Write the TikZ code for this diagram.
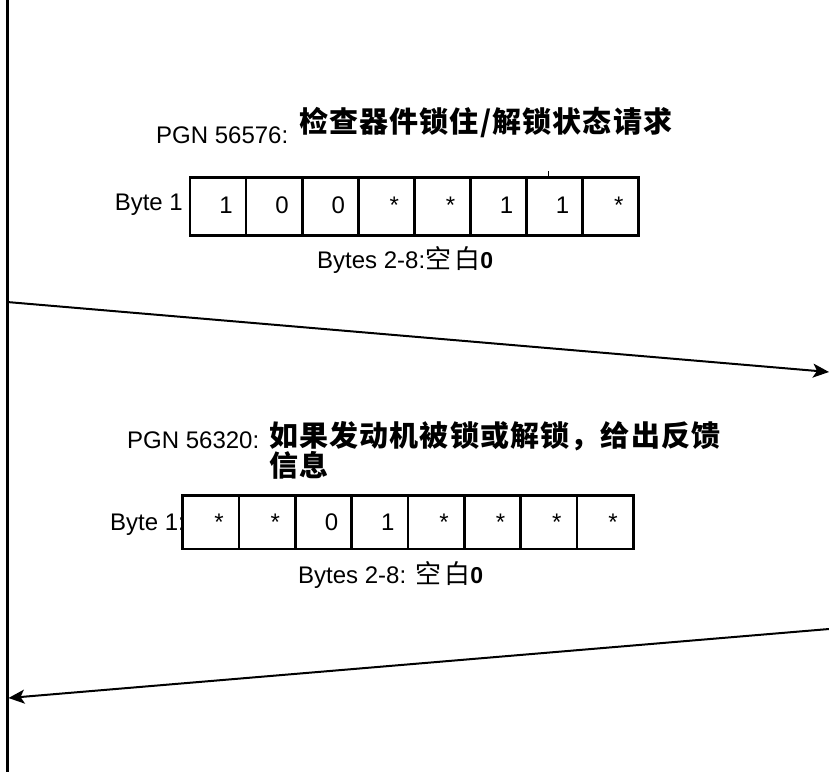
\documentclass[tikz,border=0pt]{standalone}
\usepackage{fontspec}
\setmainfont{Liberation Sans}
\newfontfamily\cjk[LetterSpace=12]{Noto Sans CJK SC}
\newfontfamily\cjkt[LetterSpace=4]{Noto Sans CJK SC}
\usetikzlibrary{arrows.meta}
\begin{document}
\begin{tikzpicture}[x=1pt,y=-1pt,
  lat/.style={font=\fontsize{24}{26}\selectfont, inner sep=0pt},
  ttl/.style={font=\fontsize{29}{29}\selectfont\cjkt\bfseries, inner sep=0pt},
  cellA/.style={draw, line width=2.7pt, minimum width=56.1pt, minimum height=58pt, inner sep=0pt},
  cellB/.style={draw, line width=2.7pt, minimum width=56.3pt, minimum height=53.5pt, inner sep=0pt},
  msg/.style={line width=2pt, -{Stealth[length=16pt,width=14pt,inset=4pt]}},
  life/.style={line width=3pt}
]
\useasboundingbox (0,0) rectangle (829,772);
% lifeline
\coordinate (ltop) at (7,0);
\coordinate (lbot) at (7,772);
\draw[life] (ltop) -- (lbot);
% message 1
\node[lat, anchor=base west] (p1) at (156,143) {PGN 56576:};
\node[ttl, anchor=base west] (p1c) at (299,132) {检查器件锁住/解锁状态请求};
\node[lat, anchor=base east] (b1) at (183,210) {Byte 1};
\foreach \v [count=\i] in {1,0,0,*,*,1,1,*}{
  \node[cellA] (a\i) at ({190+(\i-0.5)*56.1},206.5) {};
  \node[lat, anchor=base] (va\i) at ({198+(\i-0.5)*56.1},213) {\v};
}
\coordinate (tk1) at (548,171);
\coordinate (tk2) at (548,177);
\draw[line width=1pt] (tk1) -- (tk2);
\node[lat, anchor=base west] (r1) at (317,268) {Bytes 2-8:{\cjk\fontsize{26}{26}\selectfont 空白}{\fontsize{23}{23}\selectfont\bfseries 0}};
\coordinate (s1) at (7,302);
\coordinate (e1) at (829,372);
\draw[msg] (s1) -- (e1);
% message 2
\node[lat, anchor=base west] (p2) at (127,448) {PGN 56320:};
\node[ttl, anchor=base west] (p2c) at (269,446) {如果发动机被锁或解锁，给出反馈};
\node[ttl, anchor=base west] (p2d) at (269,476) {信息};
\node[lat, anchor=base east] (b2) at (185,530) {Byte 1:};
\foreach \v [count=\i] in {*,*,0,1,*,*,*,*}{
  \node[cellB] (c\i) at ({182.8+(\i-0.5)*56.3},522.3) {};
  \node[lat, anchor=base] (vc\i) at ({190.8+(\i-0.5)*56.3},530) {\v};
}
\node[lat, anchor=base west] (r2) at (298,583) {Bytes 2-8: {\cjk\fontsize{26}{26}\selectfont 空白}{\fontsize{23}{23}\selectfont\bfseries 0}};
\coordinate (s2) at (829,629);
\coordinate (e2) at (8.5,698);
\draw[msg] (s2) -- (e2);
\end{tikzpicture}
\end{document}
